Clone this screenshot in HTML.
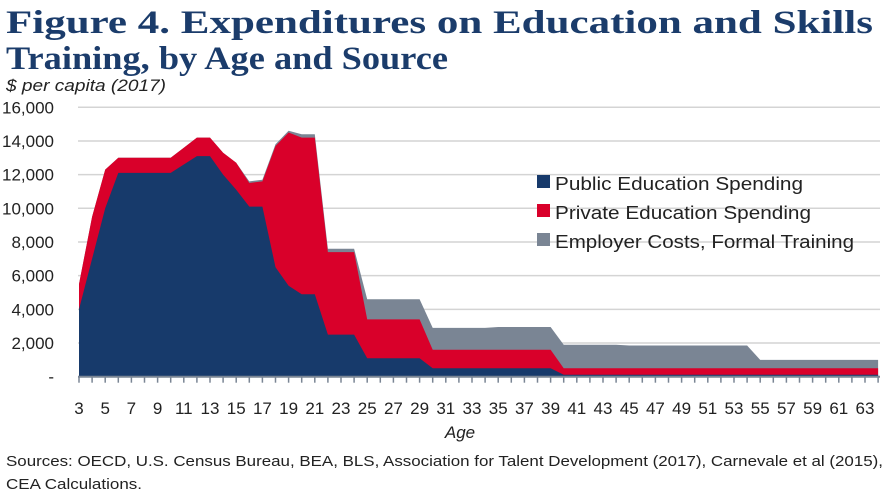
<!DOCTYPE html>
<html><head><meta charset="utf-8"><style>
html,body{margin:0;padding:0;background:#fff;width:896px;height:504px;overflow:hidden}
svg text{font-family:"Liberation Sans",sans-serif}
</style></head><body>
<svg id="s" width="896" height="504" viewBox="0 0 896 504" xmlns="http://www.w3.org/2000/svg">
<text x="6" y="33" font-weight="bold" font-size="33" fill="#1b3c6b" textLength="867" lengthAdjust="spacingAndGlyphs" style="font-family:'Liberation Serif',serif">Figure 4. Expenditures on Education and Skills</text>
<text x="6" y="69" font-weight="bold" font-size="33" fill="#1b3c6b" textLength="442" lengthAdjust="spacingAndGlyphs" style="font-family:'Liberation Serif',serif">Training, by Age and Source</text>
<text x="6" y="91" font-size="17" font-style="italic" fill="#222" textLength="160" lengthAdjust="spacingAndGlyphs">$  per capita (2017)</text>
<g id="grid"></g>
<g id="areas"></g>
<g id="ticks"></g>
<text x="460" y="438" font-size="17" font-style="italic" fill="#222" text-anchor="middle">Age</text>
<rect x="537" y="175" width="13" height="13" fill="#173a6b"/>
<text x="555" y="190" font-size="18" fill="#222" textLength="248" lengthAdjust="spacingAndGlyphs">Public Education Spending</text>
<rect x="537" y="204" width="13" height="13" fill="#d9002a"/>
<text x="555" y="219" font-size="18" fill="#222" textLength="256" lengthAdjust="spacingAndGlyphs">Private Education Spending</text>
<rect x="537" y="233" width="13" height="13" fill="#7a8594"/>
<text x="555" y="248" font-size="18" fill="#222" textLength="299" lengthAdjust="spacingAndGlyphs">Employer Costs, Formal Training</text>
<text x="6" y="466" font-size="15" fill="#222" textLength="877" lengthAdjust="spacingAndGlyphs">Sources: OECD, U.S. Census Bureau, BEA, BLS, Association for Talent Development (2017), Carnevale et al (2015),</text>
<text x="6" y="489" font-size="15" fill="#222" textLength="136" lengthAdjust="spacingAndGlyphs">CEA Calculations.</text>
</svg>
<script>
var NS="http://www.w3.org/2000/svg";
function X(a){return 79+(a-3)*13.1}
function Y(v){return 376.7-v*0.01684}
function el(p,t,at,txt){var e=document.createElementNS(NS,t);for(var k in at)e.setAttribute(k,at[k]);if(txt)e.textContent=txt;document.getElementById(p).appendChild(e);}
var labs=["-","2,000","4,000","6,000","8,000","10,000","12,000","14,000","16,000"];
for(var i=0;i<=8;i++){var y=Y(i*2000);if(i>0)el("grid","line",{x1:78,x2:880,y1:y,y2:y,stroke:"#d4d4d4","stroke-width":1.5});el("grid","text",{x:54,y:y+6,"font-size":17,fill:"#222","text-anchor":"end"},labs[i]);}
var pub={3:4000,4:7000,5:10000,6:12100,7:12100,8:12100,9:12100,10:12100,11:12600,12:13100,13:13100,14:12000,15:11100,16:10100,17:10100,18:6500,19:5400,20:4900,21:4900,22:2500,23:2500,24:2500,25:1100,26:1100,27:1100,28:1100,29:1100,30:500,39:500,40:120,64:120};
var pri={3:5500,4:9500,5:12300,6:13000,10:13000,11:13600,12:14200,13:14200,14:13300,15:12700,16:11500,17:11600,18:13700,19:14500,20:14200,21:14200,22:7400,24:7400,25:3400,29:3400,30:1600,39:1600,40:500,64:500};
var emp={3:5500,4:9500,5:12300,6:13000,10:13000,11:13600,12:14200,13:14200,14:13300,15:12700,16:11600,17:11700,18:13800,19:14600,20:14400,21:14400,22:7600,24:7600,25:4600,29:4600,30:2900,34:2900,35:2950,39:2950,40:1900,44:1900,45:1850,54:1850,55:1000,64:1000};
function interp(d,a){var ks=Object.keys(d).map(Number).sort(function(a,b){return a-b});for(var i=0;i<ks.length-1;i++){if(a>=ks[i]&&a<=ks[i+1]){var t=(a-ks[i])/(ks[i+1]-ks[i]);return d[ks[i]]+t*(d[ks[i+1]]-d[ks[i]]);}}return d[ks[ks.length-1]];}
function poly(d,c){var p=[];for(var a=3;a<=64;a++)p.push(X(a).toFixed(1)+","+Y(interp(d,a)).toFixed(1));p.push(X(64)+","+Y(0));p.push(X(3)+","+Y(0));el("areas","polygon",{points:p.join(" "),fill:c});}
poly(emp,"#7a8594");poly(pri,"#d9002a");poly(pub,"#173a6b");
el("ticks","line",{x1:78,x2:880,y1:Y(0),y2:Y(0),stroke:"#7a8594","stroke-width":2});
for(var a=3;a<=64;a++){el("ticks","line",{x1:X(a),x2:X(a),y1:Y(0),y2:Y(0)+6,stroke:"#7a8594","stroke-width":1.5});if(a%2==1&&a<=63)el("ticks","text",{x:X(a),y:414,"font-size":17,fill:"#222","text-anchor":"middle"},String(a));}
</script>
</body></html>
